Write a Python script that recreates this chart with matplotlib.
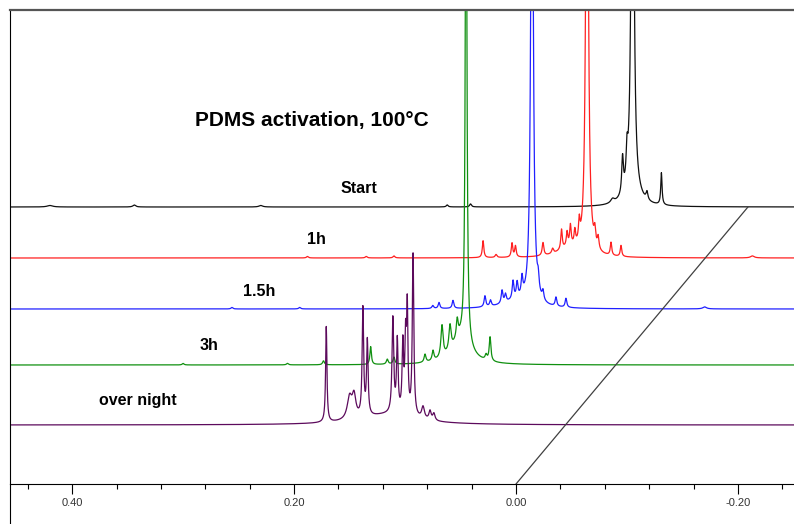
import numpy as np
import matplotlib.pyplot as plt
from matplotlib.lines import Line2D

plt.rcParams['font.family'] = ['Liberation Sans', 'DejaVu Sans']

#### peak lists: (shift ppm, height, half width)
start_peaks = [(-0.105, 600, 0.0012), (-0.105, 14, 0.0070), (-0.096, 36, 0.0009),
               (-0.100, 30, 0.0009), (-0.118, 8, 0.0010), (-0.131, 32, 0.0007),
               (-0.087, 4, 0.0020), (0.041, 3, 0.0010), (0.062, 2, 0.0010),
               (0.344, 2, 0.0015), (0.230, 1.5, 0.0020), (0.420, 1.5, 0.0030)]
h1_peaks = [(-0.064, 600, 0.0012), (0.0297, 17, 0.0008), (0.018, 3, 0.0010),
            (0.0036, 14, 0.0008), (0.0005, 11, 0.0008), (-0.0243, 13, 0.0009),
            (-0.033, 5, 0.0010), (-0.041, 20, 0.0008), (-0.046, 14, 0.0008),
            (-0.049, 20, 0.0008), (-0.053, 14, 0.0008), (-0.057, 20, 0.0008),
            (-0.071, 15, 0.0009), (-0.074, 12, 0.0009), (-0.0856, 13, 0.0008),
            (-0.0946, 11, 0.0008), (-0.048, 9, 0.0120), (-0.213, 2, 0.0020),
            (0.188, 1.5, 0.0010), (0.135, 1.5, 0.0010), (0.110, 2, 0.0010)]
h15_peaks = [(-0.0144, 600, 0.0012), (0.075, 3, 0.0010), (0.0694, 6, 0.0009),
             (0.0568, 8, 0.0009), (0.028, 11, 0.0009), (0.023, 6, 0.0009),
             (0.0126, 13, 0.0009), (0.0095, 8, 0.0009), (0.0027, 18, 0.0009),
             (-0.001, 15, 0.0009), (-0.0054, 18, 0.0009), (-0.020, 13, 0.0009),
             (-0.0243, 9, 0.0009), (-0.036, 9, 0.0009), (-0.045, 9, 0.0009),
             (0.000, 7, 0.0150), (-0.170, 2, 0.0020), (0.195, 1.5, 0.0010),
             (0.256, 1.5, 0.0010)]
h3_peaks = [(0.045, 600, 0.0008), (0.050, 25, 0.0100), (0.1735, 4, 0.0010),
            (0.131, 18, 0.0008), (0.116, 5, 0.0010), (0.110, 7, 0.0010),
            (0.082, 8, 0.0010), (0.0748, 10, 0.0010), (0.0667, 32, 0.0012),
            (0.0595, 25, 0.0012), (0.053, 18, 0.0010), (0.0234, 24, 0.0009),
            (0.027, 5, 0.0010), (0.300, 1.5, 0.0010), (0.206, 1.5, 0.0010)]
overnight_peaks = [(0.171, 96, 0.0007), (0.150, 22, 0.0025), (0.146, 22, 0.0020),
                   (0.138, 108, 0.0008), (0.134, 75, 0.0008), (0.111, 95, 0.0009),
                   (0.107, 72, 0.0008), (0.102, 68, 0.0008), (0.0995, 70, 0.0008),
                   (0.098, 100, 0.0007), (0.0928, 162, 0.0008), (0.0838, 12, 0.0015),
                   (0.0775, 9, 0.0012), (0.074, 7, 0.0012), (0.115, 10, 0.0300)]

labels = ['Start', '1h', '1.5h', '3h', 'over night']
peak_sets = [start_peaks, h1_peaks, h15_peaks, h3_peaks, overnight_peaks]
offsets = [277, 226, 175, 119, 59]
colors = ['#101010', '#ff2020', '#2020ff', '#109010', '#5c0a5c']
label_pos = [(0.1586, 296), (0.188, 244), (0.246, 192), (0.285, 138), (0.3757, 83)]
stack_shift = -0.209

ppm = np.linspace(0.46, -0.26, 7200)

def spectrum(peaks):
    y = np.zeros_like(ppm)
    for c, h, w in peaks:
        y += h * w**2 / ((ppm - c)**2 + w**2)
    return y

fig = plt.figure(figsize=(7.94, 5.24), dpi=100)
ax = fig.add_axes([10/794, 40/524, 784/794, 474/524])

for peaks, off, col in zip(peak_sets, offsets, colors):
    ax.plot(ppm, spectrum(peaks) + off, color=col, lw=0.9)

for lab, (x, y) in zip(labels, label_pos):
    ax.text(x, y, lab, ha='left', va='center', fontsize=11.5, fontweight='bold')

ax.text(0.289, 364, 'PDMS activation, 100°C', ha='left', va='center',
        fontsize=15, fontweight='bold')

# stacking guide line
ax.plot([0.0, stack_shift], [0, offsets[0]], color='#404040', lw=0.9)

ax.set_xlim(0.456, -0.2505)
ax.set_ylim(0, 474)
ax.set_yticks([])
ax.set_xticks([0.40, 0.20, 0.00, -0.20])
ax.set_xticklabels(['0.40', '0.20', '0.00', '-0.20'])
ax.set_xticks(np.arange(-0.24, 0.45, 0.04), minor=True)
ax.tick_params(axis='x', which='major', length=7, width=0.8, pad=3,
               labelsize=8, labelcolor='#333333')
ax.tick_params(axis='x', which='minor', length=3.5, width=0.8)
ax.spines['right'].set_visible(False)
ax.spines['top'].set_color('#555555')
ax.spines['top'].set_linewidth(1.6)
ax.spines['left'].set_linewidth(0.8)
ax.spines['bottom'].set_linewidth(0.8)

# left frame line runs on to the bottom edge
fig.add_artist(Line2D([10/794, 10/794], [0, 40/524], color='black', lw=0.8))

fig.savefig('out.png', dpi=100)
